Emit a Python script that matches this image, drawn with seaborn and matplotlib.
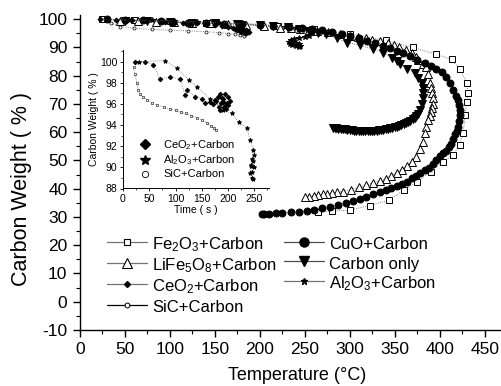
import numpy as np
import pandas as pd
import matplotlib
matplotlib.use("Agg")
import matplotlib.pyplot as plt
from matplotlib.lines import Line2D
from matplotlib.ticker import MultipleLocator
import seaborn as sns

sns.set_theme(style="white")
plt.rcParams['font.family'] = ['Liberation Sans', 'DejaVu Sans']
plt.rcParams['mathtext.fontset'] = 'custom'
plt.rcParams['mathtext.rm'] = 'Liberation Sans'
plt.rcParams['mathtext.it'] = 'Liberation Sans:italic'
plt.rcParams['axes.unicode_minus'] = False
for k in ['text.color', 'axes.labelcolor', 'xtick.color', 'ytick.color']:
    plt.rcParams[k] = 'black'

# ---------------- main plot data (Temperature °C, Carbon weight %) ----------------
fe2o3_T = [25, 60, 100, 140, 180, 220, 260, 300, 340, 370, 396, 413, 422, 430, 431, 430, 428, 426,
           422, 415, 403, 390, 375, 360, 344, 322, 300, 280, 265]
fe2o3_W = [100, 99.6, 99.2, 98.8, 98.3, 97.6, 96.6, 94.8, 92.5, 90, 87.6, 85.8, 82.3, 77.6, 74, 70.7,
           66, 59.7, 55.5, 52, 49.5, 46, 42.5, 39.5, 36, 34, 32.5, 32, 31.8]

cuo_T = [30, 50, 70, 90, 103, 120, 140, 160, 180, 200, 215, 232, 247, 258, 269, 280, 291, 300, 310, 319,
         328, 337, 345, 352, 359, 367, 375, 383, 390, 396, 402, 407, 411, 415, 418, 420, 421, 422, 422,
         421, 420, 419, 417, 415, 412, 410, 407, 403, 400, 396, 392, 388, 383, 378, 374, 369, 363, 358,
         352, 346, 340, 333, 326, 318, 311, 304, 296, 287, 278, 269, 260, 252, 244, 235, 225, 218, 210,
         205, 202]
cuo_W = [100, 99.8, 99.6, 99.3, 99, 98.8, 98.6, 98.4, 98.2, 97.9, 97.6, 97.3, 97, 96.7, 96.3, 95.5, 94.6,
         93.9, 93.2, 92.4, 91.6, 90.7, 89.8, 88.9, 88, 86.9, 85.7, 84.5, 83.3, 82.4, 81.2, 79.7, 77.5, 75,
         73, 71.4, 69.5, 68, 66, 64, 62, 60.5, 59.5, 57.5, 55.8, 54.8, 53.5, 52.5, 51.5, 50.2, 48.8, 47.5,
         46.5, 45.5, 44.6, 43.8, 42.4, 41.7, 41, 40.2, 39.5, 38.9, 38.2, 37.2, 36.4, 35.7, 35, 34.3, 33.6,
         33.1, 32.6, 32.2, 31.8, 31.6, 31.5, 31.4, 31.2, 31.2, 31.2]

life_T = [45, 65, 85, 105, 125, 145, 165, 185, 205, 222, 235, 245, 255, 263, 276, 289, 300, 309, 318, 325,
          333, 342, 349, 355, 362, 369, 373, 376, 381, 385, 387, 389, 390, 391, 392, 392, 391, 390, 389,
          387, 385, 383, 381, 378, 374, 369, 363, 358, 352, 346, 340, 333, 326, 318, 310, 301, 292, 286,
          280, 275, 270, 265, 260, 255, 250]
life_W = [99.3, 99.2, 99.1, 98.9, 98.8, 98.6, 98.4, 98.1, 97.6, 97, 96.8, 96.5, 96.2, 96, 95.4, 94.7, 94.1,
          93.6, 93.2, 92.8, 92.2, 91.7, 90.8, 90, 89, 88, 86.8, 85.5, 84.2, 83, 80.5, 77.6, 75.8, 74, 72,
          70, 68.5, 67, 65.7, 64.4, 62, 59.7, 56.4, 54, 51.4, 49.6, 48, 46.8, 45.7, 44.5, 43.5, 42.8, 42.1,
          41.3, 40.5, 39.7, 39, 38.8, 38.5, 38.2, 38, 37.7, 37.5, 37.2, 37]

conly_T = [50, 75, 100, 125, 150, 175, 200, 215, 231, 243, 255, 265, 274, 286, 297, 311, 326, 337, 347,
           352, 356, 364, 372, 376, 380, 381, 381, 381, 380, 378, 376, 374, 372, 370, 367, 365, 362, 360,
           357, 355, 352, 350, 347, 345, 342, 340, 337, 335, 332, 330, 327, 325, 322, 320, 317, 315, 312,
           310, 307, 305, 302, 300, 297, 295, 292, 290, 287, 285, 283, 281]
conly_W = [99.5, 99.2, 99, 98.8, 98.5, 98.2, 97.8, 97.6, 97.3, 96.7, 96, 95.3, 94.6, 93.2, 91.7, 90.8,
           89.5, 88, 86.4, 85.2, 84, 82.5, 81, 79.3, 77.6, 75.8, 74, 72, 70, 67.8, 66.6, 65.8, 65.2, 64.7,
           64.1, 63.7, 63.3, 62.9, 62.6, 62.3, 62, 61.8, 61.6, 61.4, 61.2, 61.0, 60.9, 60.8, 60.7, 60.6,
           60.5, 60.4, 60.35, 60.3, 60.3, 60.3, 60.35, 60.4, 60.5, 60.6, 60.7, 60.8, 60.9, 61, 61.1, 61.2,
           61.3, 61.4, 61.5, 61.6]

ceo2_T = [22, 40, 58, 75, 95, 115, 130, 140, 150, 158, 165, 170, 174, 178, 181, 184, 186, 188, 185, 182,
          178, 175, 172, 176, 180, 184, 187, 183, 179]
ceo2_W = [100, 99.8, 99.6, 99.3, 99, 98.8, 98.6, 98.2, 97.8, 97.5, 97.2, 97, 96.8, 96.6, 96.5, 96.3, 96,
          95.6, 95.3, 95.5, 95.8, 96.2, 96.6, 96.9, 96.4, 95.9, 95.4, 95.1, 95.6]

al2o3_T = [30, 55, 80, 105, 130, 155, 180, 200, 215, 228, 240, 250, 256, 258, 255, 250, 244, 238, 234,
           232, 233, 236, 240, 243, 245, 244, 240, 236]
al2o3_W = [100, 99.9, 99.6, 99.4, 99.1, 98.8, 98.5, 98.2, 97.8, 97.4, 97, 96.5, 95.8, 95, 94.2, 93.6,
           93.2, 93, 92.6, 92, 91.4, 90.8, 90.4, 90.3, 90.6, 91.2, 91.6, 91.8]

sic_T = [25, 35, 45, 60, 80, 100, 120, 140, 155, 165, 172, 178, 182]
sic_W = [99.6, 98.5, 97.4, 96.8, 96.4, 96.1, 95.9, 95.6, 95.3, 94.9, 94.6, 94.3, 94]

# ---------------- inset data (Time s, Carbon weight %) ----------------
in_ceo2_t = [23, 42, 58, 70, 90, 109, 118, 122, 137, 150, 156, 165, 172, 176, 180, 184, 188, 191, 194,
             197, 200, 203, 199, 195, 190, 186, 182, 178, 185, 192, 198]
in_ceo2_w = [100, 100, 99.7, 98.4, 98.5, 98.4, 96.8, 97.3, 96.7, 96.5, 96.1, 96.2, 96.0, 96.4, 96.7,
             96.9, 96.6, 96.2, 95.8, 95.5, 95.9, 96.3, 96.7, 96.9, 96.5, 96.1, 95.7, 96.3, 95.4, 95.7, 96.1]

in_al2o3_t = [30, 80, 102, 125, 141, 165, 191, 207, 220, 236, 242, 248, 250, 247, 244, 242, 245, 248,
              246, 243, 245, 249]
in_al2o3_w = [100, 100.1, 99.4, 98.3, 97.6, 96.5, 95.4, 95.1, 94.3, 93.7, 92.6, 91.6, 91.2, 90.6, 90.1,
              89.5, 89.0, 88.9, 89.6, 90.2, 90.8, 90.0]

in_sic_t = [20, 23, 26, 29, 33, 38, 45, 55, 65, 78, 90, 100, 110, 120, 130, 140, 150, 160, 168, 174, 178]
in_sic_w = [99.5, 98.8, 98.0, 97.3, 96.9, 96.7, 96.4, 96.1, 95.9, 95.7, 95.5, 95.4, 95.2, 95.1, 94.9,
            94.7, 94.5, 94.2, 93.9, 93.7, 93.5]

labels_main = ['Fe$_2$O$_3$+Carbon', 'LiFe$_5$O$_8$+Carbon', 'CeO$_2$+Carbon', 'SiC+Carbon',
               'CuO+Carbon', 'Carbon only', 'Al$_2$O$_3$+Carbon']
labels_inset = ['CeO$_2$+Carbon', 'Al$_2$O$_3$+Carbon', 'SiC+Carbon']

fig = plt.figure(figsize=(5.02, 3.86), dpi=100)
ax = fig.add_axes([80/502, 1-330/386, 421/502, 315/386])

def draw(axis, x, y, marker, ms, mfc, lw=0.6, mew=0.7):
    df = pd.DataFrame({'x': x, 'y': y})
    sns.lineplot(data=df, x='x', y='y', sort=False, estimator=None, ax=axis, color='0.35',
                 linestyle=':', linewidth=lw, marker=marker, markersize=ms,
                 markerfacecolor=mfc, markeredgecolor='black', markeredgewidth=mew, legend=False)

draw(ax, sic_T, sic_W, 'o', 2.2, 'white', mew=0.5)
draw(ax, fe2o3_T, fe2o3_W, 's', 4.3, 'white')
draw(ax, life_T, life_W, '^', 5.6, 'white')
draw(ax, conly_T, conly_W, 'v', 5.6, 'black')
draw(ax, cuo_T, cuo_W, 'o', 5.0, 'black')
draw(ax, ceo2_T, ceo2_W, 'D', 2.5, 'black')
draw(ax, al2o3_T, al2o3_W, '*', 3.8, 'black')

ax.set_xlim(0, 468)
ax.set_ylim(-10, 101.5)
ax.xaxis.set_major_locator(MultipleLocator(50))
ax.xaxis.set_minor_locator(MultipleLocator(25))
ax.yaxis.set_major_locator(MultipleLocator(10))
ax.yaxis.set_minor_locator(MultipleLocator(5))
for s in ['top', 'right']:
    ax.spines[s].set_visible(False)
for s in ['left', 'bottom']:
    ax.spines[s].set_color('black')
    ax.spines[s].set_linewidth(1.0)
ax.tick_params(which='major', direction='out', length=5, width=1, color='black',
               labelsize=12.5, pad=4, left=True, bottom=True)
ax.tick_params(which='minor', direction='out', length=3, width=0.8, color='black',
               left=True, bottom=True)
ax.set_xlabel('Temperature (°C)', fontsize=13)
ax.xaxis.set_label_coords(0.515, -0.118)
ax.set_ylabel('Carbon Weight ( % )', fontsize=15.5)
ax.yaxis.set_label_coords(-0.115, 0.448)

handles = [
    Line2D([], [], color='0.45', lw=0.9, marker='s', ms=5, mfc='white', mec='black', mew=0.8),
    Line2D([], [], color='0.45', lw=0.9, marker='^', ms=7, mfc='white', mec='black', mew=0.8),
    Line2D([], [], color='0.45', lw=0.9, marker='D', ms=3, mfc='black', mec='black'),
    Line2D([], [], color='black', lw=0.9, marker='o', ms=3.5, mfc='white', mec='black', mew=0.7),
    Line2D([], [], color='0.3', lw=0.9, marker='o', ms=6.5, mfc='black', mec='black'),
    Line2D([], [], color='0.3', lw=0.9, marker='v', ms=7.5, mfc='black', mec='black'),
    Line2D([], [], color='0.45', lw=0.9, marker='*', ms=4.5, mfc='black', mec='black'),
]
leg = ax.legend(handles, labels_main, ncol=2, frameon=False, fontsize=12,
                loc='upper left', bbox_to_anchor=(107/502, 1-235/386), bbox_transform=fig.transFigure,
                handlelength=2.4, handleheight=1.2, handletextpad=0.3, columnspacing=0.44,
                labelspacing=0.13, borderpad=0, borderaxespad=0)

# ---------------- inset ----------------
ins = fig.add_axes([123/502, 1-188.5/386, 146/502, 138.5/386])
ins.patch.set_alpha(0)
draw(ins, in_sic_t, in_sic_w, 'o', 1.8, 'white', lw=0.5, mew=0.4)
draw(ins, in_ceo2_t, in_ceo2_w, 'D', 2.3, 'black', lw=0.5)
draw(ins, in_al2o3_t, in_al2o3_w, '*', 3.2, 'black', lw=0.5)
ins.set_xlim(0, 278)
ins.set_ylim(88, 101.1)
ins.xaxis.set_major_locator(MultipleLocator(50))
ins.xaxis.set_minor_locator(MultipleLocator(25))
ins.yaxis.set_major_locator(MultipleLocator(2))
ins.yaxis.set_minor_locator(MultipleLocator(1))
for s in ['top', 'right']:
    ins.spines[s].set_visible(False)
for s in ['left', 'bottom']:
    ins.spines[s].set_color('black')
    ins.spines[s].set_linewidth(0.7)
ins.tick_params(which='major', direction='out', length=2.5, width=0.6, color='black',
                labelsize=7.5, pad=1.5, left=True, bottom=True)
ins.tick_params(which='minor', direction='out', length=1.5, width=0.5, color='black',
                left=True, bottom=True)
ins.set_xlabel('Time ( s )', fontsize=7.5, labelpad=1)
ins.set_ylabel('Carbon Weight ( % )', fontsize=7.5, labelpad=1)

ih = [
    Line2D([], [], ls='none', marker='D', ms=5, mfc='black', mec='black'),
    Line2D([], [], ls='none', marker='*', ms=7, mfc='black', mec='black'),
    Line2D([], [], ls='none', marker='o', ms=4.5, mfc='white', mec='black', mew=0.6),
]
ins.legend(ih, labels_inset, frameon=False, fontsize=8, loc='lower left',
           bbox_to_anchor=(0.106, 0.065), handlelength=1.2, handletextpad=1.05,
           labelspacing=0.18, borderpad=0, borderaxespad=0)

fig.savefig('out.png', dpi=100)
